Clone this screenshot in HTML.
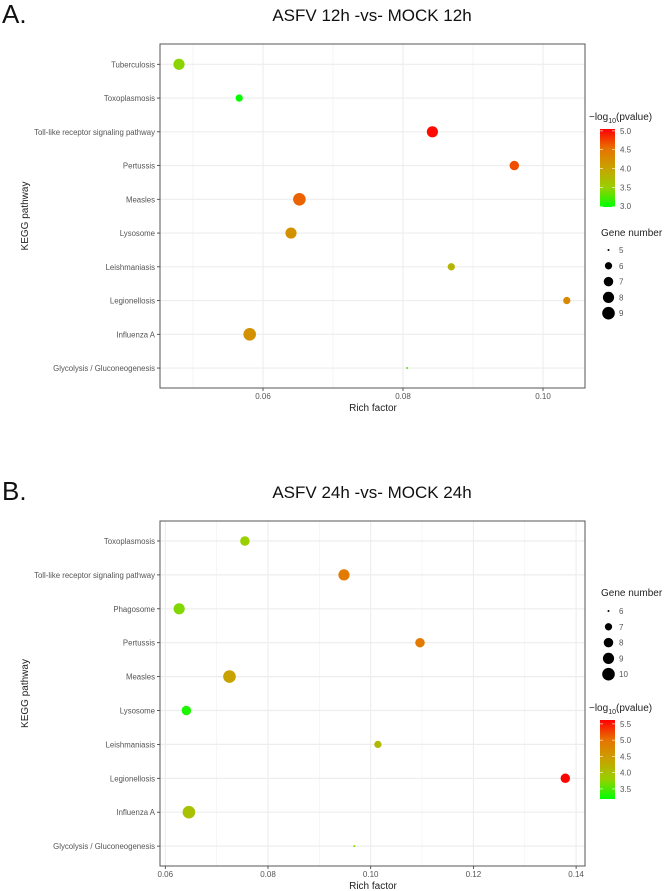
<!DOCTYPE html>
<html><head><meta charset="utf-8"><style>
body{margin:0;background:#fff;}
svg{display:block;font-family:"Liberation Sans",Arial,sans-serif;}
</style></head><body>
<svg id="chart" width="666" height="891" viewBox="0 0 666 891" xmlns="http://www.w3.org/2000/svg">
<defs>
<linearGradient id="gradA" x1="0" y1="1" x2="0" y2="0">
<stop offset="0" stop-color="#00ff00"/><stop offset="0.25" stop-color="#98d000"/><stop offset="0.5" stop-color="#c8a200"/><stop offset="0.75" stop-color="#e87200"/><stop offset="1" stop-color="#ff0000"/>
</linearGradient>
</defs>
<g id="panelA"></g>
<g id="panelB"></g>
</svg>
<script>
// Panel A data
const catsA = ["Tuberculosis","Toxoplasmosis","Toll-like receptor signaling pathway","Pertussis","Measles","Lysosome","Leishmaniasis","Legionellosis","Influenza A","Glycolysis / Gluconeogenesis"];
const richA = [0.0480,0.0566,0.0842,0.0959,0.0652,0.0640,0.0869,0.1034,0.0581,0.0806];
const pvalA = [3.45,3.0,5.0,4.7,4.6,4.2,3.8,4.3,4.2,3.3];
const genesA = [8,6,8,7,9,8,6,6,9,5];
const xTicksA = [0.06,0.08,0.10];
const xTickLabelsA = ["0.06","0.08","0.10"];
const cTicksA = [3.0,3.5,4.0,4.5,5.0];
const sizeLegendA = [5,6,7,8,9];
// Panel B data
const catsB = ["Toxoplasmosis","Toll-like receptor signaling pathway","Phagosome","Pertussis","Measles","Lysosome","Leishmaniasis","Legionellosis","Influenza A","Glycolysis / Gluconeogenesis"];
const richB = [0.0755,0.0948,0.0627,0.1096,0.0725,0.0641,0.1014,0.1379,0.0646,0.0968];
const pvalB = [3.8,4.9,3.7,4.9,4.4,3.3,4.1,5.6,4.0,3.7];
const genesB = [8,9,9,8,10,8,7,8,10,6];
const xTicksB = [0.06,0.08,0.10,0.12,0.14];
const xTickLabelsB = ["0.06","0.08","0.10","0.12","0.14"];
const cTicksB = [3.5,4.0,4.5,5.0,5.5];
const sizeLegendB = [6,7,8,9,10];

const NS="http://www.w3.org/2000/svg";
function mk(parent,tag,attrs,text){const e=document.createElementNS(NS,tag);for(const k in attrs)e.setAttribute(k,attrs[k]);if(text!==undefined)e.textContent=text;parent.appendChild(e);return e;}
const stops=[[0,[0,255,0]],[0.25,[152,208,0]],[0.5,[200,162,0]],[0.75,[232,114,0]],[1,[255,0,0]]];
function colorAt(t){t=Math.max(0,Math.min(1,t));for(let i=1;i<stops.length;i++){if(t<=stops[i][0]){const a=stops[i-1],b=stops[i];const f=(t-a[0])/(b[0]-a[0]);const c=a[1].map((v,j)=>Math.round(v+(b[1][j]-v)*f));return `rgb(${c})`;}}return "rgb(255,0,0)";}

function panel(g,o){
  const {cats,rich,pval,genes,xTicks,xLabels,cTicks,sizeLeg,label,title,yTop,box,x0,x1,xd0,xd1,cMin,cMax,cbTop,cbBot}=o;
  const sx=v=>x0+(v-xd0)/(xd1-xd0)*(x1-x0);
  const rowY=i=>o.row0+i*o.rowStep;
  const gMin=Math.min(...sizeLeg),gMax=Math.max(...sizeLeg);
  const rs=n=>1+5.3*Math.sqrt(Math.max(0,(n-gMin)/(gMax-gMin)));
  let t=mk(g,'text',{x:2,y:yTop+9,'font-size':26,fill:'#111'},label);
  
  
  t=mk(g,'text',{x:372,y:yTop+7,'font-size':17,fill:'#111','text-anchor':'middle'},title);
  
  
  const bg=mk(g,'rect',{x:box.l,y:box.t,width:box.r-box.l,height:box.b-box.t,fill:'#fff'});
  
  
  for(let i=0;i<xTicks.length+1;i++){
    const step=xTicks[1]-xTicks[0];const v=xTicks[0]-step/2+i*step;const x=sx(v);
    if(x>box.l&&x<box.r){const l=mk(g,'line',{x1:x,x2:x,y1:box.t,y2:box.b,stroke:'#f3f3f3','stroke-width':0.7});
      
      }
  }
  xTicks.forEach((v,i)=>{const x=sx(v);
    const l=mk(g,'line',{x1:x,x2:x,y1:box.t,y2:box.b,stroke:'#ebebeb','stroke-width':1});
    
    
    mk(g,'line',{x1:x,x2:x,y1:box.b,y2:box.b+3,stroke:'#333','stroke-width':0.8});
    const tl=mk(g,'text',{x:x,y:box.b+11,'font-size':8,fill:'#555','text-anchor':'middle'},xLabels[i]);
    
    });
  cats.forEach((c,i)=>{const y=rowY(i);
    const l=mk(g,'line',{x1:box.l,x2:box.r,y1:y,y2:y,stroke:'#ededed','stroke-width':1.2});
    
    
    mk(g,'line',{x1:box.l-3,x2:box.l,y1:y,y2:y,stroke:'#333','stroke-width':0.8});
    const tl=mk(g,'text',{x:box.l-5,y:y+3,'font-size':7.8,fill:'#555','text-anchor':'end'},c);
    
    });
  const fr=mk(g,'rect',{x:box.l,y:box.t,width:box.r-box.l,height:box.b-box.t,fill:'none',stroke:'#555','stroke-width':1});
  
  
  cats.forEach((c,i)=>{
    const p=mk(g,'circle',{cx:sx(rich[i]),cy:rowY(i),r:rs(genes[i]),fill:colorAt((pval[i]-cMin)/(cMax-cMin))});
    
    });
  t=mk(g,'text',{x:373,y:o.xTitleY,'font-size':10,fill:'#222','text-anchor':'middle'},'Rich factor');
  
  
  const my=(box.t+box.b)/2;
  t=mk(g,'text',{x:28,y:my,'font-size':10,fill:'#222','text-anchor':'middle',transform:`rotate(-90 28 ${my})`},'KEGG pathway');
  
  
  const ct=mk(g,'text',{x:589,y:o.cTitleY,'font-size':10,fill:'#222'});
  
  
  ct.innerHTML='−log<tspan font-size="7" dy="3">10</tspan><tspan dy="-3">(pvalue)</tspan>';
  const cb=mk(g,'rect',{x:600,y:cbTop,width:15,height:cbBot-cbTop,fill:'url(#gradA)'});
  
  
  const cy=v=>cbBot-(v-cMin)/(cMax-cMin)*(cbBot-cbTop);
  cTicks.forEach(v=>{const y=cy(v);
    mk(g,'line',{x1:600,x2:603,y1:y,y2:y,stroke:'#fff','stroke-width':0.6});
    mk(g,'line',{x1:612,x2:615,y1:y,y2:y,stroke:'#fff','stroke-width':0.6});
    const tl=mk(g,'text',{x:620,y:y+3,'font-size':8,fill:'#555'},v.toFixed(1));
    
    });
  t=mk(g,'text',{x:601,y:o.sTitleY,'font-size':10,fill:'#222'},'Gene number');
  
  
  sizeLeg.forEach((n,i)=>{const y=o.sTop+i*o.sStep;
    const c=mk(g,'circle',{cx:608.5,cy:y,r:rs(n),fill:'#000'});
    
    
    const tl=mk(g,'text',{x:619,y:y+3,'font-size':8,fill:'#555'},String(n));
    
    });
}

panel(document.getElementById('panelA'),{cats:catsA,rich:richA,pval:pvalA,genes:genesA,xTicks:xTicksA,xLabels:xTickLabelsA,cTicks:cTicksA,sizeLeg:sizeLegendA,
  label:'A.',title:'ASFV 12h -vs- MOCK 12h',yTop:14,box:{l:160,r:585,t:44,b:388},x0:263,x1:403,xd0:0.06,xd1:0.08,
  row0:64.3,rowStep:33.75,cMin:2.98,cMax:5.05,cbTop:129,cbBot:207,xTitleY:411,cTitleY:120,sTitleY:236,sTop:250,sStep:15.8});
panel(document.getElementById('panelB'),{cats:catsB,rich:richB,pval:pvalB,genes:genesB,xTicks:xTicksB,xLabels:xTickLabelsB,cTicks:cTicksB,sizeLeg:sizeLegendB,
  label:'B.',title:'ASFV 24h -vs- MOCK 24h',yTop:491,box:{l:160,r:585,t:521,b:866},x0:165.3,x1:268,xd0:0.06,xd1:0.08,
  row0:541,rowStep:33.9,cMin:3.19,cMax:5.62,cbTop:720,cbBot:799,xTitleY:889,cTitleY:711,sTitleY:596,sTop:611,sStep:15.8});
</script>
</body></html>
